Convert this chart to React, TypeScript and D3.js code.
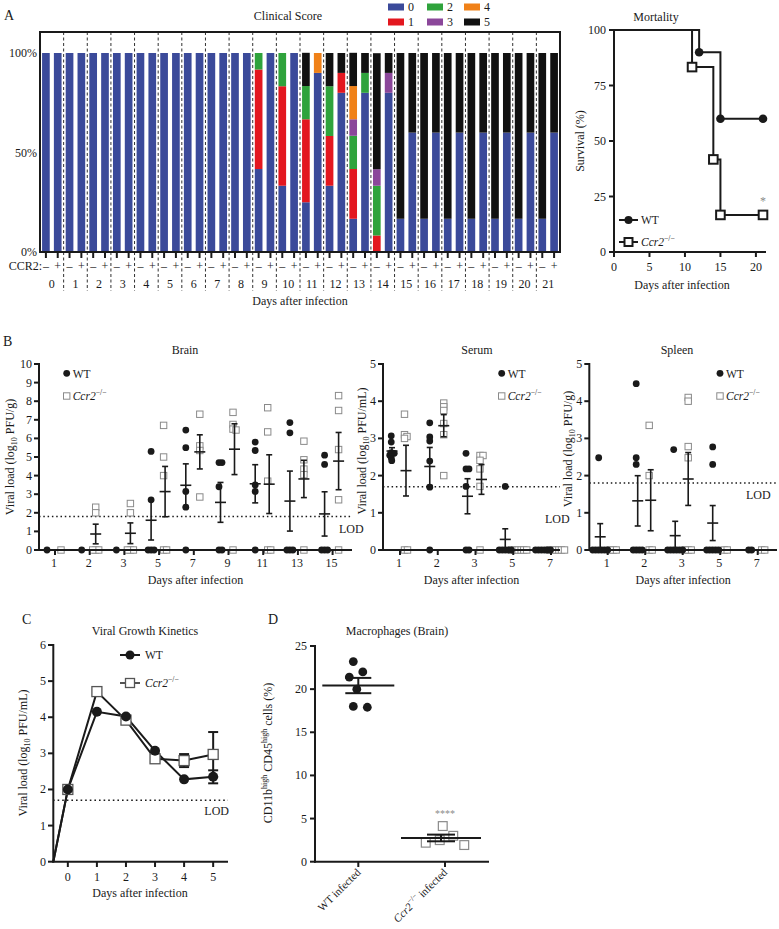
import React from "react";
import * as d3 from "d3";

const FONT = "'Liberation Serif','Times New Roman',serif";
const INK = "#1a1a1a";
const GRAY = "#8a8a8a";
const W = 779;
const H = 929;

// ---------------- Panel A : clinical score ----------------
const clinicalDays = ["0","1","2","3","4","5","6","7","8","9","10","11","12","13","14","15","16","17","18","19","20","21"];
const ccr2Status = ["–", "+"];
const scoreKeys = ["0", "1", "2", "3", "4", "5"];
const scoreColors = ["#3b4a9a", "#e3171f", "#2fa33c", "#8b479a", "#f08118", "#111111"];
// CCR2 − (knockout), % of animals per score, days 0..21
const koScore0 = [100,100,100,100,100,100,100,100,100,41.7,33.3,25,33.3,16.7,0,16.7,16.7,16.7,16.7,16.7,16.7,16.7];
const koScore1 = [0,0,0,0,0,0,0,0,0,50,50,41.7,25,25,8.3,0,0,0,0,0,0,0];
const koScore2 = [0,0,0,0,0,0,0,0,0,8.3,16.7,16.7,25,16.7,25,0,0,0,0,0,0,0];
const koScore3 = [0,0,0,0,0,0,0,0,0,0,0,0,0,8.3,8.3,0,0,0,0,0,0,0];
const koScore4 = [0,0,0,0,0,0,0,0,0,0,0,0,0,16.7,0,0,0,0,0,0,0,0];
const koScore5 = [0,0,0,0,0,0,0,0,0,0,0,16.7,16.7,16.7,58.3,83.3,83.3,83.3,83.3,83.3,83.3,83.3];
// CCR2 + (wild type)
const wtScore0 = [100,100,100,100,100,100,100,100,100,100,100,90,80,80,80,60,60,60,60,60,60,60];
const wtScore1 = [0,0,0,0,0,0,0,0,0,0,0,0,10,0,0,0,0,0,0,0,0,0];
const wtScore2 = [0,0,0,0,0,0,0,0,0,0,0,0,0,10,0,0,0,0,0,0,0,0];
const wtScore3 = [0,0,0,0,0,0,0,0,0,0,0,0,0,0,10,0,0,0,0,0,0,0];
const wtScore4 = [0,0,0,0,0,0,0,0,0,0,0,10,0,0,0,0,0,0,0,0,0,0];
const wtScore5 = [0,0,0,0,0,0,0,0,0,0,0,0,10,10,10,40,40,40,40,40,40,40];
const pctTicks = [0, 50, 100];

// ---------------- Mortality ----------------
const survTicks = [0, 25, 50, 75, 100];
const mortDayTicks = [0, 5, 10, 15, 20];
const wtSurvDays = [0, 12, 15, 21];
const wtSurv = [100, 90, 60, 60];
const koSurvDays = [0, 11, 14, 15, 21];
const koSurv = [100, 83.3, 41.7, 16.7, 16.7];

// ---------------- Panel B : viral loads ----------------
const brainDays = ["1", "2", "3", "5", "7", "9", "11", "13", "15"];
const brainWT = [[0], [0], [0], [5.3, 2.7, 0, 0, 0], [6.45, 5.5, 3.15, 2.3, 0], [4.7, 4.7, 3.4, 0, 0], [5.35, 5.8, 3.5, 3.15, 0], [6.85, 6.3, 0, 0, 0], [5.1, 4.6, 0, 0, 0]];
const brainKO = [[0], [2.3, 2.0, 0, 0, 0], [2.5, 2.0, 0, 0, 0], [6.7, 5.0, 4.0, 0, 0], [7.3, 5.6, 5.35, 2.85], [7.4, 6.75, 6.5, 6.45, 0], [7.65, 6.35, 3.7, 0, 0], [5.85, 4.85, 4.35, 4.05, 0], [8.3, 7.5, 5.4, 2.7, 0]];
const brainTicks = [0, 1, 2, 3, 4, 5, 6, 7, 8, 9, 10];

const serumDays = ["1", "2", "3", "5", "7"];
const serumWT = [[3.07, 2.9, 2.62, 2.6, 2.55, 2.48, 2.4], [3.42, 3.04, 2.93, 2.39, 1.69, 0], [2.6, 2.18, 2.18, 1.71, 0, 0], [1.71, 0, 0, 0, 0, 0], [0, 0, 0, 0, 0, 0]];
const serumKO = [[3.65, 3.1, 3.05, 3.0, 0, 0], [3.95, 3.85, 3.75, 3.4, 3.1, 2.0], [2.54, 2.54, 2.41, 2.18, 1.71, 0], [0, 0, 0, 0, 0, 0], [0, 0, 0, 0, 0, 0]];

const spleenDays = ["1", "2", "3", "5", "7"];
const spleenWT = [[2.48, 0, 0, 0, 0, 0, 0], [4.47, 2.48, 2.3, 0, 0, 0, 0], [2.7, 0, 0, 0, 0, 0, 0], [2.77, 2.3, 0, 0, 0, 0, 0], [0, 0]];
const spleenKO = [[0, 0, 0], [3.35, 2.0, 0, 0], [4.1, 4.0, 2.78, 2.48, 0, 0, 0], [0, 0], [0, 0]];
const fiveTicks = [0, 1, 2, 3, 4, 5];

// ---------------- Panel C : growth kinetics ----------------
const kinDays = [-0.5, 0, 1, 2, 3, 4, 5];
const kinDayTicks = [0, 1, 2, 3, 4, 5];
const kinWT = [0, 2.0, 4.15, 4.02, 3.07, 2.28, 2.35];
const kinWTsem = [0, 0.04, 0.04, 0.04, 0.05, 0.05, 0.18];
const kinKO = [0, 2.0, 4.71, 3.92, 2.85, 2.8, 2.97];
const kinKOsem = [0, 0.04, 0.04, 0.04, 0.05, 0.18, 0.62];
const kinTicks = [0, 1, 2, 3, 4, 5, 6];

// ---------------- Panel D : macrophages ----------------
const macroGroups = ["WT", "KO"];
const macroWT = [22.0, 21.4, 23.2, 20.0, 17.9, 18.0];
const macroKO = [2.5, 1.93, 4.13, 2.2, 3.0];
const macroTicks = [0, 5, 10, 15, 20, 25];

// ---------------- helpers ----------------
function stats(vals: number[]) {
  const m = d3.mean(vals) as number;
  const s = vals.length > 1 ? (d3.deviation(vals) as number) / Math.sqrt(vals.length) : 0;
  return { m, s };
}

function swarmOffsets(vals: number[], ypx: (v: number) => number, minDist: number): number[] {
  const idx = vals.map((_, i) => i).sort((a, b) => vals[b] - vals[a]);
  const placed: { dx: number; py: number }[] = [];
  const out: number[] = new Array(vals.length).fill(0);
  for (const i of idx) {
    const py = ypx(vals[i]);
    for (let k = 0; k < 400; k++) {
      const dx = k === 0 ? 0 : (k % 2 ? 1 : -1) * Math.ceil(k / 2) * 0.5;
      if (placed.every((p) => Math.hypot(p.dx - dx, p.py - py) >= minDist)) {
        out[i] = dx;
        placed.push({ dx, py });
        break;
      }
    }
  }
  const lo = d3.min(out) as number;
  const hi = d3.max(out) as number;
  return out.map((o) => o - (lo + hi) / 2);
}

const KoLabel = ({ size = 11 }: { size?: number }) => (
  <>
    <tspan fontStyle="italic">Ccr2</tspan>
    <tspan dy={-5} fontSize={size * 0.7}>−/−</tspan>
  </>
);

function ErrorBar({ x, y, m, s, half = 5.5, cap = 3, sw = 1.6 }: any) {
  return (
    <g stroke={INK} strokeWidth={sw}>
      <line x1={x} x2={x} y1={y(m + s)} y2={y(Math.max(0, m - s))} />
      <line x1={x - cap} x2={x + cap} y1={y(m + s)} y2={y(m + s)} />
      <line x1={x - cap} x2={x + cap} y1={y(Math.max(0, m - s))} y2={y(Math.max(0, m - s))} />
      <line x1={x - half} x2={x + half} y1={y(m)} y2={y(m)} />
    </g>
  );
}

// ---------------- Panel A ----------------
function PanelA() {
  const left = 40, right = 560, top = 32, base = 252;
  const xDay = d3.scaleBand<string>().domain(clinicalDays).range([left, right]).padding(0);
  const xSub = d3.scaleBand<string>().domain(ccr2Status).range([0, xDay.bandwidth()]).paddingInner(0.35).paddingOuter(0.175);
  const y = d3.scaleLinear().domain([0, 100]).range([base, 53]);
  const koScores = [koScore0, koScore1, koScore2, koScore3, koScore4, koScore5];
  const wtScores = [wtScore0, wtScore1, wtScore2, wtScore3, wtScore4, wtScore5];
  const rows = clinicalDays.flatMap((day, i) =>
    ccr2Status.map((st) => {
      const src = st === "–" ? koScores : wtScores;
      const r: any = { day, st };
      scoreKeys.forEach((k, j) => (r[k] = src[j][i]));
      return r;
    })
  );
  const series = d3.stack<any>().keys(scoreKeys)(rows);
  const legendCols = [388, 427, 464];
  return (
    <g>
      <text x={4} y={20} fontSize={14} fill={INK}>A</text>
      <text x={288} y={20} fontSize={12} textAnchor="middle" fill={INK}>Clinical Score</text>
      {scoreKeys.map((k, j) => {
        const cx = legendCols[Math.floor(j / 2)];
        const cy = j % 2 === 0 ? 7 : 22;
        return (
          <g key={k}>
            <rect x={cx} y={cy - 3.5} width={16} height={7} fill={scoreColors[j]} />
            <text x={cx + 20} y={cy + 4} fontSize={12} fill={INK}>{k}</text>
          </g>
        );
      })}
      {series.map((s, j) => (
        <g key={j} fill={scoreColors[j]}>
          {s.map((d: any, i: number) => {
            const h = y(d[0]) - y(d[1]);
            if (h <= 0.01) return null;
            return <rect key={i} x={(xDay(d.data.day) as number) + (xSub(d.data.st) as number)} y={y(d[1])} width={xSub.bandwidth()} height={h} />;
          })}
        </g>
      ))}
      {clinicalDays.slice(1).map((d) => (
        <line key={d} x1={xDay(d)} x2={xDay(d)} y1={top} y2={291} stroke={INK} strokeWidth={0.9} strokeDasharray="3,2.5" />
      ))}
      <rect x={left} y={top} width={right - left} height={base - top} fill="none" stroke={INK} strokeWidth={2} />
      {pctTicks.map((t) => (
        <text key={t} x={37} y={y(t) + 4} fontSize={12} textAnchor="end" fill={INK}>{t}%</text>
      ))}
      {rows.map((r, i) => {
        const cx = (xDay(r.day) as number) + (xSub(r.st) as number) + xSub.bandwidth() / 2;
        return (
          <g key={i}>
            <line x1={cx} x2={cx} y1={base} y2={258} stroke={INK} strokeWidth={2} />
            <text x={cx} y={270} fontSize={12} textAnchor="middle" fill={INK}>{r.st}</text>
          </g>
        );
      })}
      <text x={42} y={270} fontSize={12} textAnchor="end" fill={INK}>CCR2:</text>
      {clinicalDays.map((d) => (
        <text key={d} x={(xDay(d) as number) + xDay.bandwidth() / 2} y={288} fontSize={12} textAnchor="middle" fill={INK}>{d}</text>
      ))}
      <text x={300} y={305} fontSize={12} textAnchor="middle" fill={INK}>Days after infection</text>
    </g>
  );
}

// ---------------- Mortality ----------------
function Mortality() {
  const x = d3.scaleLinear().domain([0, 21]).range([614, 763]);
  const y = d3.scaleLinear().domain([0, 100]).range([252, 30]);
  const wtPts = wtSurvDays.map((d, i) => [x(d), y(wtSurv[i])] as [number, number]);
  const koPts = koSurvDays.map((d, i) => [x(d), y(koSurv[i])] as [number, number]);
  const lineGen = d3.line().curve(d3.curveStepAfter);
  return (
    <g>
      <text x={656} y={21} fontSize={12} textAnchor="middle" fill={INK}>Mortality</text>
      <path d={lineGen(koPts) as string} fill="none" stroke={INK} strokeWidth={2} />
      <path d={lineGen(wtPts) as string} fill="none" stroke={INK} strokeWidth={2} />
      {wtPts.slice(1).map((p, i) => <circle key={i} cx={p[0]} cy={p[1]} r={4.3} fill={INK} />)}
      {koPts.slice(1).map((p, i) => <rect key={i} x={p[0] - 4.3} y={p[1] - 4.3} width={8.6} height={8.6} fill="#fff" stroke={INK} strokeWidth={2} />)}
      <line x1={614} x2={614} y1={30} y2={253} stroke={INK} strokeWidth={2} />
      <line x1={613} x2={766} y1={252} y2={252} stroke={INK} strokeWidth={2} />
      {survTicks.map((t) => (
        <g key={t}>
          <line x1={609} x2={614} y1={y(t)} y2={y(t)} stroke={INK} strokeWidth={2} />
          <text x={606} y={y(t) + 4} fontSize={12} textAnchor="end" fill={INK}>{t}</text>
        </g>
      ))}
      {mortDayTicks.map((t) => (
        <g key={t}>
          <line x1={x(t)} x2={x(t)} y1={252} y2={257} stroke={INK} strokeWidth={2} />
          <text x={x(t)} y={271} fontSize={12} textAnchor="middle" fill={INK}>{t}</text>
        </g>
      ))}
      <text x={682} y={289} fontSize={12} textAnchor="middle" fill={INK}>Days after infection</text>
      <text transform={`translate(584,141) rotate(-90)`} fontSize={12} textAnchor="middle" fill={INK}>Survival (%)</text>
      <text x={x(21)} y={205} fontSize={12} textAnchor="middle" fill={GRAY}>*</text>
      <line x1={619} x2={638} y1={220} y2={220} stroke={INK} strokeWidth={2} />
      <circle cx={628.5} cy={220} r={4} fill={INK} />
      <text x={641} y={224} fontSize={11.5} fill={INK}>WT</text>
      <line x1={619} x2={638} y1={242} y2={242} stroke={INK} strokeWidth={2} />
      <rect x={624.5} y={238} width={8} height={8} fill="#fff" stroke={INK} strokeWidth={2} />
      <text x={641} y={246} fontSize={11.5} fill={INK}><KoLabel /></text>
    </g>
  );
}

// ---------------- Panel B ----------------
function ScatterPanel(p: any) {
  const y = d3.scaleLinear().domain([0, p.yMax]).range([550, 364]);
  const x = d3.scalePoint<string>().domain(p.days).range([p.firstTick, p.lastTick]);
  return (
    <g>
      <text x={p.titleX} y={354} fontSize={12} textAnchor="middle" fill={INK}>{p.title}</text>
      <line x1={p.axisX} x2={p.lodEnd} y1={y(p.lod)} y2={y(p.lod)} stroke={INK} strokeWidth={1.5} strokeDasharray="1.5,2.8" />
      <text x={p.lodTextX} y={p.lodTextY} fontSize={12} fill={INK}>LOD</text>
      {p.days.map((d: string, i: number) => {
        const wx = (x(d) as number) - p.off;
        const kx = (x(d) as number) + p.off;
        const wo = swarmOffsets(p.wt[i], y, 3);
        const ko = swarmOffsets(p.ko[i], y, 3);
        const ws = stats(p.wt[i]);
        const ks = stats(p.ko[i]);
        return (
          <g key={d}>
            {p.ko[i].map((v: number, j: number) => (
              <rect key={"k" + j} x={kx + ko[j] - 3.2} y={y(v) - 3.2} width={6.4} height={6.4} fill="#fff" stroke={GRAY} strokeWidth={1} />
            ))}
            {p.wt[i].map((v: number, j: number) => (
              <circle key={"w" + j} cx={wx + wo[j]} cy={y(v)} r={3.4} fill={INK} />
            ))}
            {ws.m > 0 && <ErrorBar x={wx} y={y} m={ws.m} s={ws.s} />}
            {ks.m > 0 && <ErrorBar x={kx} y={y} m={ks.m} s={ks.s} />}
          </g>
        );
      })}
      <line x1={p.axisX} x2={p.axisX} y1={363} y2={551} stroke={INK} strokeWidth={2} />
      <line x1={p.axisX - 1} x2={p.axisEnd} y1={550} y2={550} stroke={INK} strokeWidth={2} />
      {p.yTicks.map((t: number) => (
        <g key={t}>
          <line x1={p.axisX - 5} x2={p.axisX} y1={y(t)} y2={y(t)} stroke={INK} strokeWidth={2} />
          <text x={p.axisX - 7} y={y(t) + 4} fontSize={12} textAnchor="end" fill={INK}>{t}</text>
        </g>
      ))}
      {p.days.map((d: string) => (
        <g key={d}>
          <line x1={(x(d) as number) + 1} x2={(x(d) as number) + 1} y1={550} y2={555} stroke={INK} strokeWidth={2} />
          <text x={x(d)} y={567} fontSize={12} textAnchor="middle" fill={INK}>{d}</text>
        </g>
      ))}
      <text x={(p.axisX + p.axisEnd) / 2} y={584} fontSize={12} textAnchor="middle" fill={INK}>Days after infection</text>
      <text transform={`translate(${p.yLabelX},${p.yLabelY}) rotate(-90)`} fontSize={12} textAnchor="middle" fill={INK}>
        Viral load (log<tspan dy={3} fontSize={8}>10</tspan><tspan dy={-3}> PFU/{p.unit})</tspan>
      </text>
      <circle cx={p.legendX} cy={373.3} r={3.4} fill={INK} />
      <text x={p.legendX + 6} y={377.5} fontSize={11.5} fill={INK}>WT</text>
      <rect x={p.legendX - 3.2} y={396 - 3.2} width={6.4} height={6.4} fill="#fff" stroke={GRAY} strokeWidth={1} />
      <text x={p.legendX + 6} y={400} fontSize={11.5} fill={INK}><KoLabel /></text>
    </g>
  );
}

// ---------------- Panel C ----------------
function PanelC() {
  const x = d3.scaleLinear().domain([-0.5, 5.5]).range([53.3, 227.7]);
  const y = d3.scaleLinear().domain([0, 6]).range([861.7, 645]);
  const line = d3.line<number>().x((_, i) => x(kinDays[i])).y((v) => y(v));
  return (
    <g>
      <text x={22} y={624} fontSize={14} fill={INK}>C</text>
      <text x={145} y={635} fontSize={12} textAnchor="middle" fill={INK}>Viral Growth Kinetics</text>
      <line x1={53} x2={228} y1={y(1.7)} y2={y(1.7)} stroke={INK} strokeWidth={1.6} strokeDasharray="1.6,3" />
      <text x={229} y={815} fontSize={12} textAnchor="end" fill={INK}>LOD</text>
      <path d={line(kinKO) as string} fill="none" stroke={INK} strokeWidth={2} />
      <path d={line(kinWT) as string} fill="none" stroke={INK} strokeWidth={2} />
      {kinKO.map((v, i) =>
        i === 0 ? null : (
          <g key={"k" + i}>
            {kinKOsem[i] > 0.1 && <ErrorBar x={x(kinDays[i])} y={y} m={v} s={kinKOsem[i]} half={0} cap={5} sw={2} />}
            <rect x={x(kinDays[i]) - 5} y={y(v) - 5} width={10} height={10} fill="#fff" stroke="#555" strokeWidth={1.3} />
          </g>
        )
      )}
      {kinWT.map((v, i) =>
        i === 0 ? null : (
          <g key={"w" + i}>
            {kinWTsem[i] > 0.1 && <ErrorBar x={x(kinDays[i])} y={y} m={v} s={kinWTsem[i]} half={0} cap={5} sw={2} />}
            <circle cx={x(kinDays[i])} cy={y(v)} r={5} fill={INK} />
          </g>
        )
      )}
      <line x1={53.3} x2={53.3} y1={644} y2={862.7} stroke={INK} strokeWidth={2} />
      <line x1={52.3} x2={228} y1={861.7} y2={861.7} stroke={INK} strokeWidth={2} />
      {kinTicks.map((t) => (
        <g key={t}>
          <line x1={48} x2={53.3} y1={y(t)} y2={y(t)} stroke={INK} strokeWidth={2} />
          <text x={46} y={y(t) + 4} fontSize={12} textAnchor="end" fill={INK}>{t}</text>
        </g>
      ))}
      {kinDayTicks.map((t) => (
        <g key={t}>
          <line x1={x(t)} x2={x(t)} y1={861.7} y2={867} stroke={INK} strokeWidth={2} />
          <text x={x(t)} y={881} fontSize={12} textAnchor="middle" fill={INK}>{t}</text>
        </g>
      ))}
      <text x={140} y={897} fontSize={12} textAnchor="middle" fill={INK}>Days after infection</text>
      <text transform={`translate(27,753) rotate(-90)`} fontSize={12} textAnchor="middle" fill={INK}>
        Viral load (log<tspan dy={3} fontSize={8}>10</tspan><tspan dy={-3}> PFU/mL)</tspan>
      </text>
      <line x1={120} x2={140} y1={655} y2={655} stroke={INK} strokeWidth={2} />
      <circle cx={130} cy={655} r={4.5} fill={INK} />
      <text x={145} y={659} fontSize={11.5} fill={INK}>WT</text>
      <line x1={120} x2={140} y1={683} y2={683} stroke={INK} strokeWidth={1.5} />
      <rect x={125.5} y={678.5} width={9} height={9} fill="#fff" stroke="#555" strokeWidth={1.3} />
      <text x={145} y={687} fontSize={11.5} fill={INK}><KoLabel /></text>
    </g>
  );
}

// ---------------- Panel D ----------------
function PanelD() {
  const x = d3.scalePoint<string>().domain(macroGroups).range([358.3, 445]);
  const y = d3.scaleLinear().domain([0, 25]).range([861.7, 646]);
  const wo = swarmOffsets(macroWT, y, 14);
  const ko = swarmOffsets(macroKO, y, 14);
  const ws = stats(macroWT);
  const ks = stats(macroKO);
  const wx = x("WT") as number;
  const kx = x("KO") as number;
  return (
    <g>
      <text x={268} y={624} fontSize={14} fill={INK}>D</text>
      <text x={397} y={635} fontSize={12} textAnchor="middle" fill={INK}>Macrophages (Brain)</text>
      {macroWT.map((v, i) => <circle key={i} cx={wx + wo[i]} cy={y(v)} r={4.4} fill={INK} />)}
      {macroKO.map((v, i) => <rect key={i} x={kx + ko[i] - 4.4} y={y(v) - 4.4} width={8.8} height={8.8} fill="#fff" stroke={GRAY} strokeWidth={1.2} />)}
      <ErrorBar x={wx} y={y} m={ws.m} s={ws.s} half={36} cap={13} sw={2} />
      <ErrorBar x={kx - 4} y={y} m={ks.m} s={ks.s} half={40} cap={14} sw={2} />
      <text x={kx} y={817} fontSize={10} textAnchor="middle" fill={GRAY}>****</text>
      <line x1={315} x2={315} y1={645} y2={862.7} stroke={INK} strokeWidth={2} />
      <line x1={314} x2={489} y1={861.7} y2={861.7} stroke={INK} strokeWidth={2} />
      {macroTicks.map((t) => (
        <g key={t}>
          <line x1={310} x2={315} y1={y(t)} y2={y(t)} stroke={INK} strokeWidth={2} />
          <text x={307} y={y(t) + 4} fontSize={12} textAnchor="end" fill={INK}>{t}</text>
        </g>
      ))}
      {macroGroups.map((g) => (
        <line key={g} x1={x(g)} x2={x(g)} y1={861.7} y2={867} stroke={INK} strokeWidth={2} />
      ))}
      <text transform={`translate(${wx + 3},873) rotate(-45)`} fontSize={11} textAnchor="end" fill={INK}>WT infected</text>
      <text transform={`translate(${kx + 3},873) rotate(-45)`} fontSize={11} textAnchor="end" fill={INK}>
        <KoLabel size={11} /><tspan dy={5}> infected</tspan>
      </text>
      <text transform={`translate(272,753) rotate(-90)`} fontSize={12} textAnchor="middle" fill={INK}>
        CD11b<tspan dy={-5} fontSize={8}>high</tspan><tspan dy={5}> CD45</tspan><tspan dy={-5} fontSize={8}>high</tspan><tspan dy={5}> cells (%)</tspan>
      </text>
    </g>
  );
}

export default function App() {
  return (
    <svg width={W} height={H} viewBox={`0 0 ${W} ${H}`} fontFamily={FONT} style={{ position: "absolute", left: 0, top: 0, background: "#fff" }}>
      <rect width={W} height={H} fill="#fff" />
      <PanelA />
      <Mortality />
      <text x={3} y={346} fontSize={14} fill={INK}>B</text>
      <ScatterPanel title="Brain" days={brainDays} wt={brainWT} ko={brainKO} axisX={39} axisEnd={352} firstTick={54} lastTick={331.6}
        yMax={10} yTicks={brainTicks} lod={1.8} lodTextX={339} lodTextY={533} lodEnd={352} unit="g" titleX={185} legendX={66.7} off={7}
        yLabelX={14} yLabelY={457} />
      <ScatterPanel title="Serum" days={serumDays} wt={serumWT} ko={serumKO} axisX={383} axisEnd={560} firstTick={399} lastTick={550}
        yMax={5} yTicks={fiveTicks} lod={1.7} lodTextX={545} lodTextY={523} lodEnd={560} unit="mL" titleX={477} legendX={501.7} off={7}
        yLabelX={366} yLabelY={451} />
      <ScatterPanel title="Spleen" days={spleenDays} wt={spleenWT} ko={spleenKO} axisX={589.3} axisEnd={777} firstTick={606.7} lastTick={756.7}
        yMax={5} yTicks={fiveTicks} lod={1.8} lodTextX={746} lodTextY={499} lodEnd={777} unit="g" titleX={677} legendX={720} off={6.5}
        yLabelX={572} yLabelY={449} />
      <PanelC />
      <PanelD />
    </svg>
  );
}
